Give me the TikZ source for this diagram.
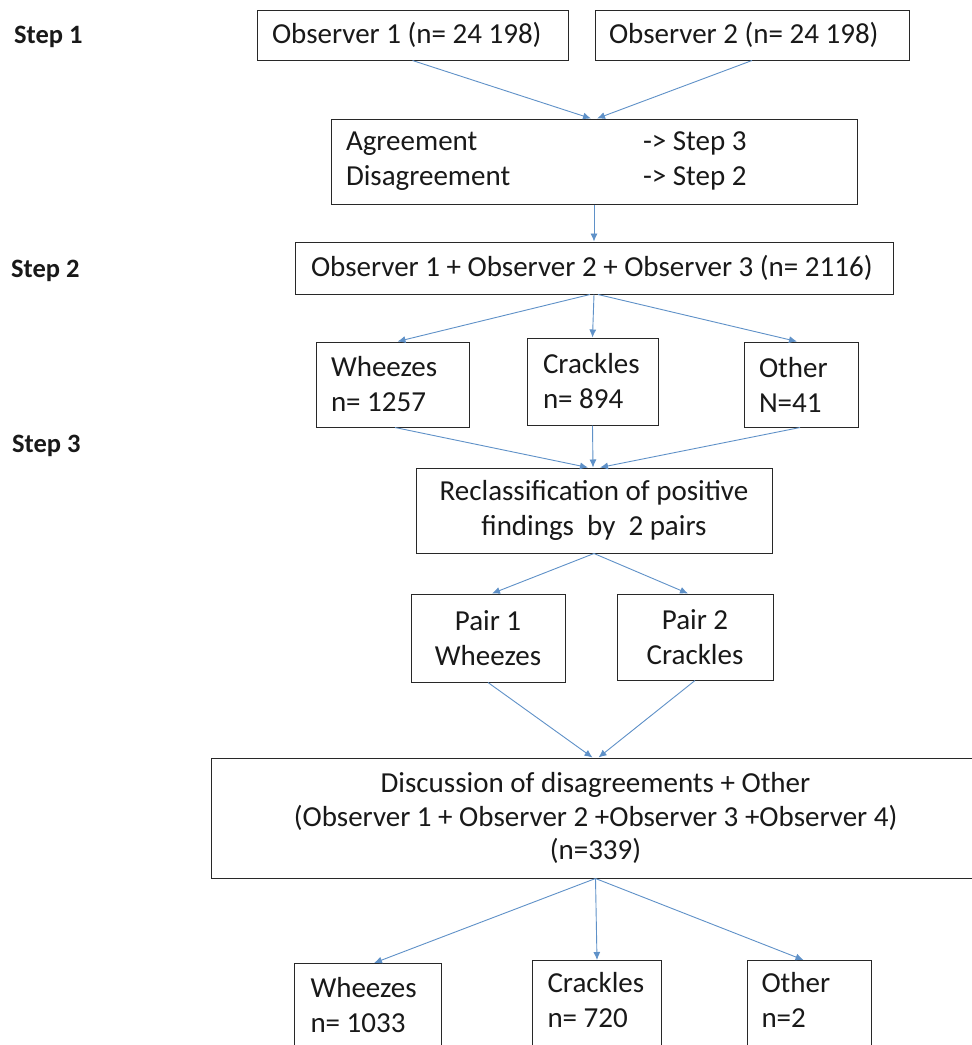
\documentclass[tikz,border=0pt]{standalone}
\usepackage{fontspec}
\setmainfont{Carlito}
\usetikzlibrary{arrows.meta}
\definecolor{arrowblue}{RGB}{95,145,200}
\definecolor{boxline}{RGB}{40,40,40}
\definecolor{textcol}{RGB}{25,25,25}
\tikzset{
  box/.style={draw=boxline, line width=1pt, inner ysep=0pt, text=textcol,
    font=\fontsize{29pt}{35pt}\selectfont},
  lbox/.style={box, align=flush left},
  cbox/.style={box, align=flush center},
  steplabel/.style={inner sep=0pt, text=textcol, font=\bfseries\fontsize{26.5pt}{32pt}\selectfont},
  arr/.style={draw=arrowblue, line width=0.9pt, -{Latex[length=8pt,width=7pt]}}
}
\begin{document}
\begin{tikzpicture}[x=1pt,y=-1pt]
\path[use as bounding box] (0,0) rectangle (972,1045);
\clip (0,0) rectangle (972,1045);
\fill[white] (0,0) rectangle (972,1045);

% step labels
\node[steplabel, anchor=base west] (s1) at (14,43) {Step 1};
\node[steplabel, anchor=base west] (s2) at (11,277) {Step 2};
\node[steplabel, anchor=base west] (s3) at (12,452) {Step 3};

% step 1
\node[lbox, inner xsep=15pt, text width=281pt, minimum height=50pt] (obs1) at (412.5,35) {Observer 1 (n= 24 198)};
\node[lbox, inner xsep=14pt, text width=286pt, minimum height=50pt] (obs2) at (752,35) {Observer 2 (n= 24 198)};
\node[lbox, inner xsep=15pt, text width=496pt, minimum height=85pt] (agree) at (594,161.5)
  {\makebox[297pt][l]{Agreement}-> Step 3\\\makebox[297pt][l]{Disagreement}-> Step 2};

% step 2
\node[lbox, inner xsep=16pt, text width=566pt, minimum height=52pt] (step2) at (594,268)
  {Observer 1 + Observer 2 + Observer 3 (n= 2116)};
\node[lbox, inner xsep=15pt, text width=123pt, minimum height=85pt] (wh1) at (392.5,384.5) {Wheezes\\n= 1257};
\node[lbox, inner xsep=16pt, text width=99pt, minimum height=87pt] (cr1) at (592.5,381.5) {Crackles\\n= 894};
\node[lbox, inner xsep=15pt, text width=84pt, minimum height=85pt] (ot1) at (801,384.5) {Other\\N=41};

% step 3
\node[cbox, minimum width=356pt, minimum height=85pt] (reclass) at (594,510.5)
  {Reclassification of positive\\findings~ by~ 2 pairs};
\node[cbox, minimum width=154pt, minimum height=88pt] (pair1) at (488,638) {Pair 1\\Wheezes};
\node[cbox, minimum width=156pt, minimum height=86pt] (pair2) at (695,637) {Pair 2\\Crackles};
\node[cbox, minimum width=769pt, minimum height=120pt, font=\fontsize{29pt}{33.5pt}\selectfont] (disc) at (595.5,818)
  {Discussion of disagreements + Other\\(Observer 1 + Observer 2 +Observer 3 +Observer 4)\\(n=339)};

% results
\node[box, inner sep=0pt, anchor=north west] (wh2) at (294,963)
  {\begin{minipage}[t][100pt][t]{147pt}\leftskip=16pt\rule{0pt}{34pt}Wheezes\\n= 1033\end{minipage}};
\node[box, inner sep=0pt, anchor=north west] (cr2) at (532,960)
  {\begin{minipage}[t][100pt][t]{129pt}\leftskip=15pt\rule{0pt}{32pt}Crackles\\n= 720\end{minipage}};
\node[box, inner sep=0pt, anchor=north west] (ot2) at (747,960)
  {\begin{minipage}[t][100pt][t]{124pt}\leftskip=14pt\rule{0pt}{32pt}Other\\n=2\end{minipage}};

% connectors
\draw[arr] (obs1.south) -- ([xshift=-3pt]agree.north);
\draw[arr] (obs2.south) -- ([xshift=3pt]agree.north);
\draw[arr] (agree.south) -- (step2.north);
\draw[arr] ([xshift=-4pt]step2.south) -- ([xshift=5pt]wh1.north);
\draw[arr] (step2.south) -- (cr1.north);
\draw[arr] ([xshift=4pt]step2.south) -- ([xshift=-4pt]ot1.north);
\draw[arr] ([xshift=2.5pt]wh1.south) -- ([xshift=-6pt]reclass.north);
\draw[arr] (cr1.south) -- ([xshift=-1pt]reclass.north);
\draw[arr] ([xshift=-1pt]ot1.south) -- ([xshift=6pt]reclass.north);
\draw[arr] (reclass.south) -- ([xshift=4pt]pair1.north);
\draw[arr] (reclass.south) -- ([xshift=-7pt]pair2.north);
\draw[arr] (pair1.south) -- ([xshift=-3pt]disc.north);
\draw[arr] (pair2.south) -- ([xshift=3pt]disc.north);
\draw[arr] (disc.south) -- ([xshift=6pt]wh2.north);
\draw[arr] (disc.south) -- (cr2.north);
\draw[arr] (disc.south) -- ([xshift=-6pt]ot2.north);
\end{tikzpicture}
\end{document}
